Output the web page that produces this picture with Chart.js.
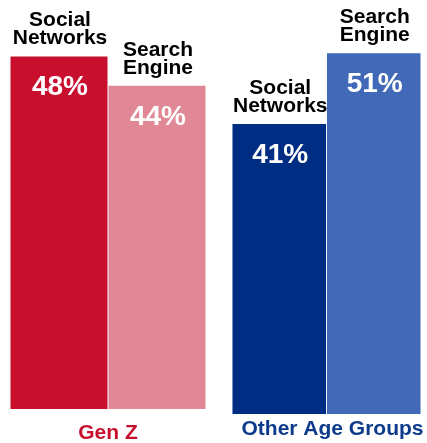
<!DOCTYPE html>
<html>
<head>
<meta charset="utf-8">
<script src="https://cdn.jsdelivr.net/npm/chart.js@4.4.1/dist/chart.umd.min.js"></script>
<style>
    html, body { margin: 0; padding: 0; background: #fff; }
    .box { position: absolute; top: 0; height: 443px; }
    #genZBox { left: 0; width: 214px; }
    #otherBox { left: 214px; width: 213px; }
</style>
</head>
<body>
<div class="box" id="genZBox"><canvas id="genZChart"></canvas></div>
<div class="box" id="otherBox"><canvas id="otherChart"></canvas></div>
<script>
const groups = ['Gen Z', 'Other Age Groups'];
const channels = ['Social Networks', 'Search Engine'];
const channelLines = [['Social', 'Networks'], ['Search', 'Engine']];
const genZValues = [48, 44];
const otherValues = [41, 51];

const fontFamily = "'Liberation Sans', Arial, sans-serif";

// draws the channel name above each bar, the % inside, and the group name below
const barLabels = {
    id: 'barLabels',
    afterDatasetsDraw(chart, args, opts) {
        const ctx = chart.ctx;
        const meta = chart.getDatasetMeta(0);
        const values = chart.data.datasets[0].data;
        ctx.save();
        ctx.textAlign = 'center';
        ctx.textBaseline = 'alphabetic';
        meta.data.forEach((bar, i) => {
            const lines = channelLines[i];
            ctx.fillStyle = '#000';
            ctx.font = 'bold 21px ' + fontFamily;
            ctx.fillText(lines[0], bar.x + 1, bar.y - 30);
            ctx.fillText(lines[1], bar.x + 1, bar.y - 12);
            ctx.fillStyle = '#fff';
            ctx.font = 'bold 28px ' + fontFamily;
            ctx.fillText(values[i] + '%', bar.x + 1, bar.y + 39);
        });
        const area = chart.chartArea;
        ctx.fillStyle = opts.color;
        ctx.font = 'bold 21px ' + fontFamily;
        ctx.fillText(opts.text, (area.left + area.right) / 2 + opts.dx, area.bottom + opts.dy);
        ctx.restore();
    }
};

function makeChart(id, values, colors, padding, groupLabel) {
    return new Chart(document.getElementById(id), {
        type: 'bar',
        data: {
            labels: channels,
            datasets: [{
                data: values,
                backgroundColor: colors,
                borderWidth: 0,
                categoryPercentage: 1,
                barPercentage: 0.99
            }]
        },
        options: {
            responsive: true,
            maintainAspectRatio: false,
            animation: false,
            layout: { padding: padding },
            scales: {
                x: { display: false },
                y: { display: false, min: 0, max: 55 }
            },
            plugins: {
                legend: { display: false },
                tooltip: { enabled: false },
                barLabels: groupLabel
            }
        },
        plugins: [barLabels]
    });
}

makeChart('genZChart', genZValues, ['#C8102E', '#E08896'],
    { left: 10, right: 8, top: 5, bottom: 34 },
    { text: groups[0], color: '#C8102E', dx: 0, dy: 30 });

makeChart('otherChart', otherValues, ['#002D84', '#4169B8'],
    { left: 18, right: 6, top: 25, bottom: 29 },
    { text: groups[1], color: '#0D3A8A', dx: 6, dy: 21 });
</script>
</body>
</html>
